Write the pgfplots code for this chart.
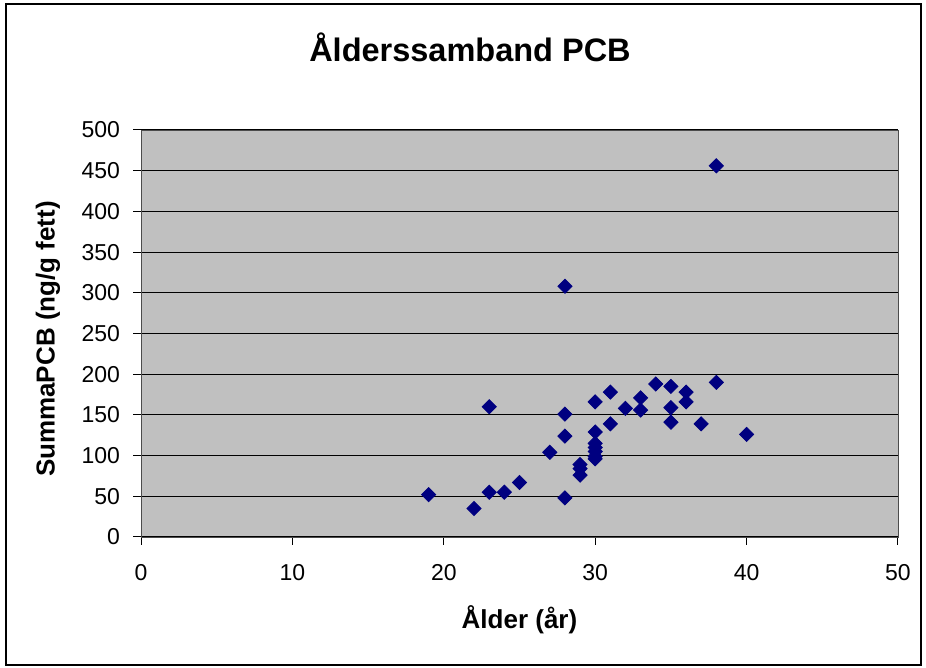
\documentclass[border=0pt]{standalone}
\usepackage{fontspec}
\setmainfont{Liberation Sans}
\usepackage{pgfplots}
\pgfplotsset{compat=1.18}

\definecolor{plotgray}{RGB}{192,192,192}
\definecolor{marknavy}{RGB}{0,0,128}

\begin{document}
\begin{tikzpicture}[x=1pt,y=1pt]
  \useasboundingbox (0,0) rectangle (463,334);
  \draw[line width=1pt] (3,1.5) rectangle (460.5,332);
  \begin{axis}[
      at={(70.5pt,65.5pt)}, anchor=south west,
      width=378.5pt, height=203.5pt, scale only axis,
      xmin=0, xmax=50, ymin=0, ymax=500,
      xtick={0,10,...,50}, ytick={0,50,...,500},
      axis background/.style={fill=plotgray},
      axis line style={gray!60!black},
      ymajorgrids, grid style={black, line width=0.5pt},
      tick align=outside, tick pos=left,
      major tick length=4pt,
      tick style={black, line width=0.5pt},
      /pgf/number format/assume math mode=true,
      ticklabel style={font=\fontsize{11.5}{13}\selectfont},
      xticklabel style={yshift=-6pt},
      yticklabel style={xshift=-3pt},
      clip=false,
    ]
    \addplot[only marks, mark=square*, mark size=2.5pt,
             mark options={rotate=45, fill=marknavy, draw=marknavy}]
      coordinates {
        (19,52) (22,35) (23,160) (23,55) (24,55) (25,67) (27,104)
        (28,151) (28,124) (28,48) (28,308)
        (29,89) (29,84) (29,76)
        (30,166) (30,129) (30,115) (30,110) (30,105) (30,99) (30,96)
        (31,178) (31,139) (32,158) (33,171) (33,156) (34,188)
        (35,185) (35,159) (35,141) (36,178) (36,166) (37,139)
        (38,190) (38,456) (40,126)
      };
  \end{axis}
  \node[font=\fontsize{16.25}{19}\selectfont\bfseries] at (235,310.5) {Ålderssamband PCB};
  \node[font=\fontsize{13}{15}\selectfont\bfseries] at (259.75,24) {Ålder (år)};
  \node[font=\fontsize{13}{15}\selectfont\bfseries, rotate=90] at (24,164.5) {SummaPCB (ng/g fett)};
\end{tikzpicture}
\end{document}
